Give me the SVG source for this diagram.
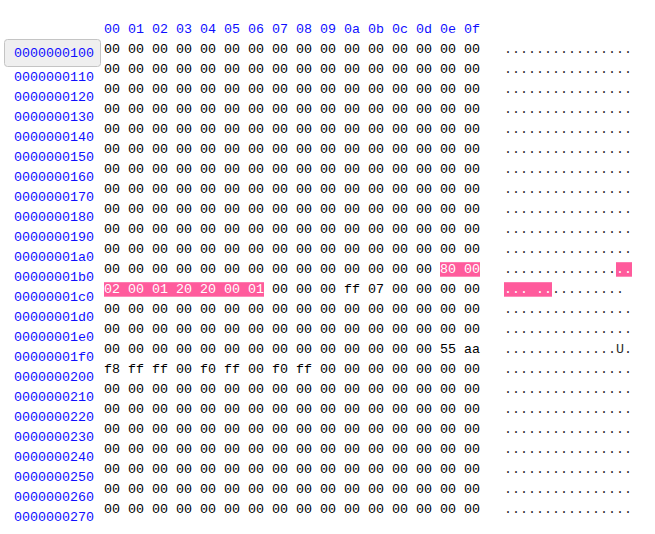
<svg xmlns="http://www.w3.org/2000/svg" width="655" height="534" viewBox="0 0 655 534">
<style>
text{font-family:"Liberation Mono","DejaVu Sans Mono",monospace;font-size:13.333px;white-space:pre}
.a{fill:#0f0fff}
.h{fill:#000000}
.c{fill:#2a2a2a}
.w{fill:#ffffff}
.hl{fill:#ff5b9c}
</style>
<rect width="655" height="534" fill="#ffffff"/>
<g id="header"><text class="a" x="104" y="32.7" xml:space="preserve">00 01 02 03 04 05 06 07 08 09 0a 0b 0c 0d 0e 0f</text></g>
<g id="addresses">
<rect x="4.5" y="39.5" width="96" height="27" rx="3" fill="#efefef" stroke="#c4c4c4"/>
<text class="a" x="14" y="56.7">0000000100</text>
<text class="a" x="14" y="80.7">0000000110</text>
<text class="a" x="14" y="100.7">0000000120</text>
<text class="a" x="14" y="120.7">0000000130</text>
<text class="a" x="14" y="140.7">0000000140</text>
<text class="a" x="14" y="160.7">0000000150</text>
<text class="a" x="14" y="180.7">0000000160</text>
<text class="a" x="14" y="200.7">0000000170</text>
<text class="a" x="14" y="220.7">0000000180</text>
<text class="a" x="14" y="240.7">0000000190</text>
<text class="a" x="14" y="260.7">00000001a0</text>
<text class="a" x="14" y="280.7">00000001b0</text>
<text class="a" x="14" y="300.7">00000001c0</text>
<text class="a" x="14" y="320.7">00000001d0</text>
<text class="a" x="14" y="340.7">00000001e0</text>
<text class="a" x="14" y="360.7">00000001f0</text>
<text class="a" x="14" y="380.7">0000000200</text>
<text class="a" x="14" y="400.7">0000000210</text>
<text class="a" x="14" y="420.7">0000000220</text>
<text class="a" x="14" y="440.7">0000000230</text>
<text class="a" x="14" y="460.7">0000000240</text>
<text class="a" x="14" y="480.7">0000000250</text>
<text class="a" x="14" y="500.7">0000000260</text>
<text class="a" x="14" y="520.7">0000000270</text>
</g>
<g id="highlights">
<rect class="hl" x="440" y="262.2" width="40" height="14.5"/>
<rect class="hl" x="104" y="282.2" width="160" height="14.5"/>
<rect class="hl" x="616" y="262.2" width="16" height="14.5"/>
<rect class="hl" x="504" y="282.2" width="48" height="14.5"/>
</g>
<g id="hex" class="h">
<text class="h" x="104" y="52.7" xml:space="preserve">00 00 00 00 00 00 00 00 00 00 00 00 00 00 00 00</text>
<text class="h" x="104" y="72.7" xml:space="preserve">00 00 00 00 00 00 00 00 00 00 00 00 00 00 00 00</text>
<text class="h" x="104" y="92.7" xml:space="preserve">00 00 00 00 00 00 00 00 00 00 00 00 00 00 00 00</text>
<text class="h" x="104" y="112.7" xml:space="preserve">00 00 00 00 00 00 00 00 00 00 00 00 00 00 00 00</text>
<text class="h" x="104" y="132.7" xml:space="preserve">00 00 00 00 00 00 00 00 00 00 00 00 00 00 00 00</text>
<text class="h" x="104" y="152.7" xml:space="preserve">00 00 00 00 00 00 00 00 00 00 00 00 00 00 00 00</text>
<text class="h" x="104" y="172.7" xml:space="preserve">00 00 00 00 00 00 00 00 00 00 00 00 00 00 00 00</text>
<text class="h" x="104" y="192.7" xml:space="preserve">00 00 00 00 00 00 00 00 00 00 00 00 00 00 00 00</text>
<text class="h" x="104" y="212.7" xml:space="preserve">00 00 00 00 00 00 00 00 00 00 00 00 00 00 00 00</text>
<text class="h" x="104" y="232.7" xml:space="preserve">00 00 00 00 00 00 00 00 00 00 00 00 00 00 00 00</text>
<text class="h" x="104" y="252.7" xml:space="preserve">00 00 00 00 00 00 00 00 00 00 00 00 00 00 00 00</text>
<text class="h" x="104" y="272.7" xml:space="preserve">00 00 00 00 00 00 00 00 00 00 00 00 00 00</text>
<text class="w" x="440" y="272.7" xml:space="preserve">80 00</text>
<text class="w" x="104" y="292.7" xml:space="preserve">02 00 01 20 20 00 01</text>
<text class="h" x="272" y="292.7" xml:space="preserve">00 00 00 ff 07 00 00 00 00</text>
<text class="h" x="104" y="312.7" xml:space="preserve">00 00 00 00 00 00 00 00 00 00 00 00 00 00 00 00</text>
<text class="h" x="104" y="332.7" xml:space="preserve">00 00 00 00 00 00 00 00 00 00 00 00 00 00 00 00</text>
<text class="h" x="104" y="352.7" xml:space="preserve">00 00 00 00 00 00 00 00 00 00 00 00 00 00 55 aa</text>
<text class="h" x="104" y="372.7" xml:space="preserve">f8 ff ff 00 f0 ff 00 f0 ff 00 00 00 00 00 00 00</text>
<text class="h" x="104" y="392.7" xml:space="preserve">00 00 00 00 00 00 00 00 00 00 00 00 00 00 00 00</text>
<text class="h" x="104" y="412.7" xml:space="preserve">00 00 00 00 00 00 00 00 00 00 00 00 00 00 00 00</text>
<text class="h" x="104" y="432.7" xml:space="preserve">00 00 00 00 00 00 00 00 00 00 00 00 00 00 00 00</text>
<text class="h" x="104" y="452.7" xml:space="preserve">00 00 00 00 00 00 00 00 00 00 00 00 00 00 00 00</text>
<text class="h" x="104" y="472.7" xml:space="preserve">00 00 00 00 00 00 00 00 00 00 00 00 00 00 00 00</text>
<text class="h" x="104" y="492.7" xml:space="preserve">00 00 00 00 00 00 00 00 00 00 00 00 00 00 00 00</text>
<text class="h" x="104" y="512.7" xml:space="preserve">00 00 00 00 00 00 00 00 00 00 00 00 00 00 00 00</text>
</g>
<g id="ascii">
<text class="c" x="504" y="52.7">................</text>
<text class="c" x="504" y="72.7">................</text>
<text class="c" x="504" y="92.7">................</text>
<text class="c" x="504" y="112.7">................</text>
<text class="c" x="504" y="132.7">................</text>
<text class="c" x="504" y="152.7">................</text>
<text class="c" x="504" y="172.7">................</text>
<text class="c" x="504" y="192.7">................</text>
<text class="c" x="504" y="212.7">................</text>
<text class="c" x="504" y="232.7">................</text>
<text class="c" x="504" y="252.7">................</text>
<text class="c" x="504" y="272.7">..............</text>
<text class="w" x="616" y="272.7">..</text>
<text class="w" x="504" y="292.7" xml:space="preserve">... ..</text>
<text class="c" x="552" y="292.7">.........</text>
<text class="c" x="504" y="312.7">................</text>
<text class="c" x="504" y="332.7">................</text>
<text class="c" x="504" y="352.7">..............U.</text>
<text class="c" x="504" y="372.7">................</text>
<text class="c" x="504" y="392.7">................</text>
<text class="c" x="504" y="412.7">................</text>
<text class="c" x="504" y="432.7">................</text>
<text class="c" x="504" y="452.7">................</text>
<text class="c" x="504" y="472.7">................</text>
<text class="c" x="504" y="492.7">................</text>
<text class="c" x="504" y="512.7">................</text>
</g>
</svg>
